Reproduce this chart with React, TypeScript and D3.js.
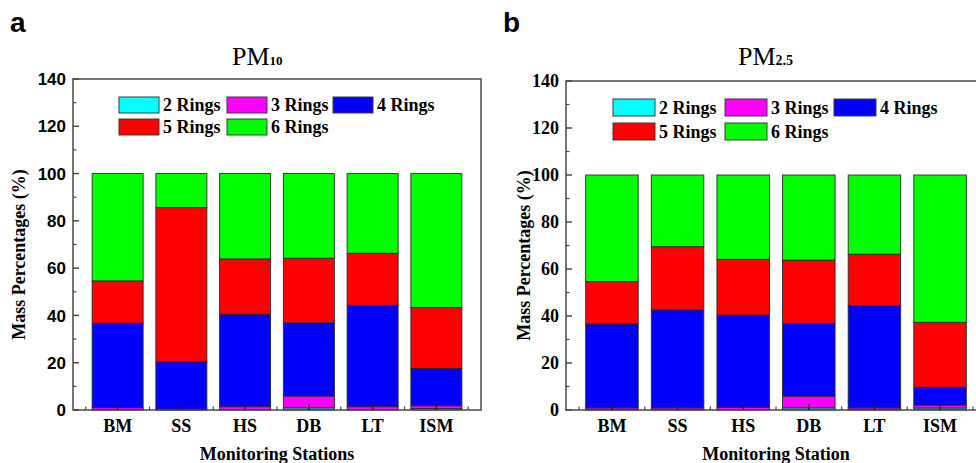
import React from "react";
import * as d3 from "d3";

const stations = ["BM", "SS", "HS", "DB", "LT", "ISM"];
const ringNames = ["2 Rings", "3 Rings", "4 Rings", "5 Rings", "6 Rings"];
const ringColors = ["#00FFFF", "#FF00FF", "#0000FF", "#FF0000", "#00FF00"];
const yTicks = [0, 20, 40, 60, 80, 100, 120, 140];

// PM10 mass percentages per ring class, per station
const pm10Ring2 = [0.1, 0.05, 0.1, 0.9, 0.1, 0.6];
const pm10Ring3 = [0.9, 0.3, 1.3, 5.0, 1.3, 1.2];
const pm10Ring4 = [35.7, 20.05, 39.1, 31.0, 42.9, 15.8];
const pm10Ring5 = [17.9, 65.2, 23.4, 27.3, 22.0, 25.7];
const pm10Ring6 = [45.4, 14.4, 36.1, 35.8, 33.7, 56.7];

// PM2.5 mass percentages per ring class, per station
const pm25Ring2 = [0.1, 0.1, 0.1, 0.9, 0.1, 0.85];
const pm25Ring3 = [0.8, 0.8, 1.1, 5.0, 0.8, 1.25];
const pm25Ring4 = [35.7, 41.7, 39.2, 31.0, 43.5, 7.6];
const pm25Ring5 = [18.0, 26.9, 23.7, 26.9, 21.9, 27.6];
const pm25Ring6 = [45.4, 30.5, 35.9, 36.2, 33.7, 62.7];

type PanelProps = {
  series: number[][];
  left: number;
  right: number;
  top: number;
  bottom: number;
  tickFont: string;
  tickSize: number;
  letter: string;
  letterX: number;
  titleX: number;
  sub: string;
  subSize: number;
  legendX: number;
  legendY: number;
  swW: number;
  swH: number;
  colGap: number[];
  rowGap: number;
  xTitle: string;
  yTitleX: number;
};

function Panel(p: PanelProps) {
  const x = d3
    .scaleBand<string>()
    .domain(stations)
    .range([p.left, p.right])
    .paddingInner(0.2)
    .paddingOuter(0.3);
  const y = d3.scaleLinear().domain([0, 140]).range([p.bottom, p.top]);
  const rows = stations.map((s, i) => {
    const o: any = { station: s };
    ringNames.forEach((r, k) => (o[r] = p.series[k][i]));
    return o;
  });
  const stacked = d3.stack<any>().keys(ringNames)(rows);
  const step = x.step();
  const minorX = d3.range(stations.length + 1).map((i) => (x(stations[0]) as number) + x.bandwidth() / 2 - step / 2 + i * step);
  const minorY = d3.range(10, 140, 20);
  const serif = "'Liberation Serif', 'Times New Roman', serif";
  const axisColor = "#4a4a4a";
  return (
    <g>
      <text x={p.letterX} y={32} fontFamily="'Liberation Sans', Arial, sans-serif" fontWeight="bold" fontSize={28} fill="#000">
        {p.letter}
      </text>
      <text x={p.titleX} y={65} fontFamily={serif} fontSize={26} fill="#000">
        PM
        <tspan fontSize={p.subSize} fontWeight="bold">{p.sub}</tspan>
      </text>
      {stacked.map((layer, k) => (
        <g key={k}>
          {layer.map((d, i) => (
            <rect
              key={i}
              x={x(stations[i])}
              y={y(d[1])}
              width={x.bandwidth()}
              height={Math.max(0, y(d[0]) - y(d[1]))}
              fill={ringColors[k]}
              stroke="#2a2a2a"
              strokeWidth={0.9}
            />
          ))}
        </g>
      ))}
      {/* frame */}
      <rect x={p.left} y={p.top} width={p.right - p.left} height={p.bottom - p.top} fill="none" stroke={axisColor} strokeWidth={1.5} />
      {/* y ticks */}
      {yTicks.map((t) => (
        <g key={t}>
          <line x1={p.left} x2={p.left + 6} y1={y(t)} y2={y(t)} stroke={axisColor} strokeWidth={1.5} />
          <text
            x={p.left - 7}
            y={y(t)}
            dy="0.36em"
            textAnchor="end"
            fontFamily={p.tickFont}
            fontWeight="bold"
            fontSize={p.tickSize}
            fill="#000"
          >
            {t}
          </text>
        </g>
      ))}
      {minorY.map((t) => (
        <line key={t} x1={p.left} x2={p.left + 3.5} y1={y(t)} y2={y(t)} stroke={axisColor} strokeWidth={1.2} />
      ))}
      {/* x ticks */}
      {stations.map((s) => {
        const cx = (x(s) as number) + x.bandwidth() / 2;
        return (
          <g key={s}>
            <line x1={cx} x2={cx} y1={p.bottom} y2={p.bottom - 6} stroke="#222" strokeWidth={1.5} />
            <text x={cx} y={432} textAnchor="middle" fontFamily={serif} fontWeight="bold" fontSize={18} fill="#000">
              {s}
            </text>
          </g>
        );
      })}
      {minorX.map((mx, i) => (
        <line key={i} x1={mx} x2={mx} y1={p.bottom} y2={p.bottom - 3.5} stroke={axisColor} strokeWidth={1.2} />
      ))}
      <text
        x={(p.left + p.right) / 2}
        y={460}
        textAnchor="middle"
        fontFamily={serif}
        fontWeight="bold"
        fontSize={18}
        fill="#000"
      >
        {p.xTitle}
      </text>
      <text
        transform={`translate(${p.yTitleX},${(p.top + p.bottom) / 2 + 10}) rotate(-90)`}
        textAnchor="middle"
        fontFamily={serif}
        fontWeight="bold"
        fontSize={18}
        fill="#000"
      >
        Mass Percentages (%)
      </text>
      {/* legend */}
      {ringNames.map((r, k) => {
        const col = k % 3;
        const row = Math.floor(k / 3);
        const lx = p.legendX + p.colGap[col];
        const ly = p.legendY + row * p.rowGap;
        return (
          <g key={r}>
            <rect x={lx} y={ly} width={p.swW} height={p.swH} fill={ringColors[k]} stroke="#3a3a3a" strokeWidth={1} />
            <text x={lx + p.swW + 4} y={ly + p.swH - 2} fontFamily={serif} fontWeight="bold" fontSize={18} fill="#000">
              {r}
            </text>
          </g>
        );
      })}
    </g>
  );
}

export default function App() {
  return (
    <svg
      width={976}
      height={463}
      viewBox="0 0 976 463"
      style={{ position: "absolute", left: 0, top: 0, background: "#fff" }}
    >
      <rect x={0} y={0} width={976} height={463} fill="#fff" />
      <Panel
        series={[pm10Ring2, pm10Ring3, pm10Ring4, pm10Ring5, pm10Ring6]}
        left={73}
        right={481}
        top={79}
        bottom={410}
        tickFont="'Liberation Sans', Arial, sans-serif"
        tickSize={17}
        letter="a"
        letterX={10}
        titleX={232}
        sub="10"
        subSize={13}
        legendX={119}
        legendY={97}
        swW={40}
        swH={16}
        colGap={[0, 108, 214]}
        rowGap={22}
        xTitle="Monitoring Stations"
        yTitleX={25}
      />
      <Panel
        series={[pm25Ring2, pm25Ring3, pm25Ring4, pm25Ring5, pm25Ring6]}
        left={566}
        right={986}
        top={81}
        bottom={410}
        tickFont="'Liberation Serif', 'Times New Roman', serif"
        tickSize={18}
        letter="b"
        letterX={503}
        titleX={738}
        sub="2.5"
        subSize={14}
        legendX={613}
        legendY={99}
        swW={42}
        swH={17}
        colGap={[0, 112, 221]}
        rowGap={24}
        xTitle="Monitoring Station"
        yTitleX={530}
      />
    </svg>
  );
}
